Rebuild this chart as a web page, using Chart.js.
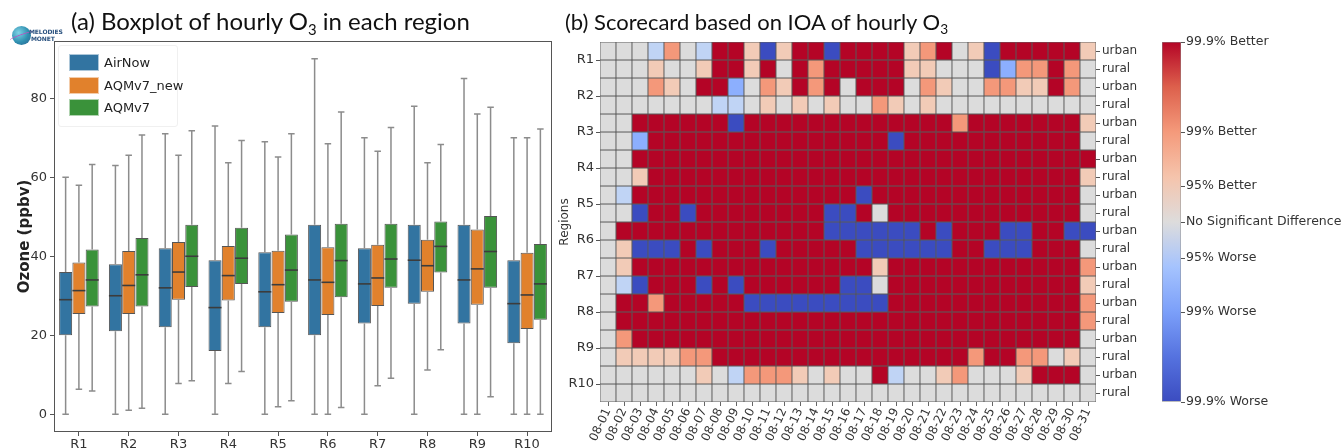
<!DOCTYPE html>
<html>
<head>
<meta charset="utf-8">
<script src="https://cdn.jsdelivr.net/npm/chart.js@4.4.1/dist/chart.umd.min.js"></script>
<style>
  html, body { margin: 0; padding: 0; background: #fff; }
  #wrap { position: relative; width: 1341px; height: 448px; overflow: hidden; background: #fff; font-family: "DejaVu Sans", sans-serif; }
  canvas { position: absolute; top: 0; }
  #boxCanvas { left: 0; }
  #scoreCanvas { left: 550px; }
  #barCanvas { left: 1150px; }
  .title { position: absolute; font-family: Lato, "Open Sans", sans-serif; line-height: 30px; color: #111; white-space: nowrap; }
  .title sub { font-size: 0.62em; line-height: 0; vertical-align: -0.32em; }
  #titleA { left: 71px; top: 6px; font-size: 24px; }
  #titleB { left: 565px; top: 7px; font-size: 22px; }
  #legend { position: absolute; left: 58px; top: 45px; width: 118px; height: 80px; border: 1px solid #f0f0f0; border-radius: 3px; background: rgba(255,255,255,0.85); }
  .item { position: absolute; left: 10px; height: 17px; font-size: 13px; line-height: 17px; color: #222; white-space: nowrap; }
  .patch { display: inline-block; width: 30px; height: 17px; vertical-align: top; margin-right: 5px; border: 1px solid rgba(255,255,255,0.6); box-sizing: border-box; }
  #logo { position: absolute; left: 12px; top: 26px; width: 60px; height: 20px; }
  #logo .globe { position: absolute; left: 0; top: 0; width: 19px; height: 19px; border-radius: 50%; background: radial-gradient(circle at 35% 35%, #7fd3e6, #2f8fb0 55%, #2b5d8c); }
  #logo .globe::after { content: ""; position: absolute; left: -3px; top: 8px; width: 25px; height: 3px; border-radius: 50%; border-top: 1px solid #c04cc0; transform: rotate(-20deg); }
  #logo .txt { position: absolute; left: 17px; top: 3px; font-family: "DejaVu Sans", sans-serif; font-weight: bold; font-size: 6px; line-height: 6.5px; color: #28507e; letter-spacing: -0.1px; }
</style>
</head>
<body>
<div id="wrap">
  <canvas id="boxCanvas" width="560" height="448"></canvas>
  <canvas id="scoreCanvas" width="610" height="448"></canvas>
  <canvas id="barCanvas" width="191" height="448"></canvas>
  <div class="title" id="titleA">(a) Boxplot of hourly O<sub>3</sub> in each region</div>
  <div class="title" id="titleB">(b) Scorecard based on IOA of hourly O<sub>3</sub></div>
  <div id="legend"></div>
  <div id="logo"><div class="globe"></div><div class="txt">MELODIES<br>&nbsp;MONET</div></div>
</div>
<script>
// ---------- panel (a): hourly ozone distributions ----------
const regions = ['R1', 'R2', 'R3', 'R4', 'R5', 'R6', 'R7', 'R8', 'R9', 'R10'];
const seriesNames = ['AirNow', 'AQMv7_new', 'AQMv7'];
const seriesColors = ['#3274a1', '#e1812c', '#3a923a'];
const ozoneTicks = [0, 20, 40, 60, 80];

// [lower whisker, Q1, median, Q3, upper whisker] in ppbv, one entry per region
const airNow = [
  [0, 20, 29, 36, 60], [0, 21, 30, 38, 63], [0, 22, 32, 42, 71], [0, 16, 27, 39, 73], [0, 22, 31, 41, 69],
  [0, 20, 34, 48, 90], [0, 23, 33, 42, 70], [0, 28, 39, 48, 78], [0, 23, 34, 48, 85], [0, 18, 28, 39, 70]
];
const aqmv7New = [
  [6.3, 25.4, 31.3, 38.4, 58], [1, 25.4, 32.6, 41.3, 65.6], [7.8, 29, 36, 43.6, 65.6], [7.8, 28.8, 35.1, 42.6, 63.7], [1.9, 25.6, 32.8, 41.4, 65.1],
  [0, 25.1, 33.4, 42.3, 68.5], [7.2, 27.4, 34.5, 42.9, 66.6], [11.2, 31, 37.6, 44.2, 63.7], [0, 27.7, 36.8, 46.8, 76], [0, 21.6, 30.2, 40.9, 70]
];
const aqmv7 = [
  [5.9, 27.3, 34, 41.7, 63.2], [1.5, 27.3, 35.3, 44.6, 70.7], [8.5, 32.2, 40, 48, 71.8], [10.8, 33, 39.5, 47.2, 69.3], [3.4, 28.5, 36.5, 45.5, 71],
  [1.7, 29.6, 38.9, 48.2, 76.5], [9.1, 32, 39.3, 48.2, 72.6], [16.3, 35.9, 42.5, 48.8, 68.3], [4.4, 32, 41.2, 50.2, 77.7], [0, 23.9, 33, 43.1, 72.2]
];
const seriesStats = [airNow, aqmv7New, aqmv7];

// ---------- panel (b): IOA scorecard ----------
const dayLabels = ['08-01','08-02','08-03','08-04','08-05','08-06','08-07','08-08','08-09','08-10',
  '08-11','08-12','08-13','08-14','08-15','08-16','08-17','08-18','08-19','08-20',
  '08-21','08-22','08-23','08-24','08-25','08-26','08-27','08-28','08-29','08-30','08-31'];
const siteLabels = ['urban', 'rural'];
const scaleLabels = ['99.9% Worse', '99% Worse', '95% Worse', 'No Significant Difference', '95% Better', '99% Better', '99.9% Better'];
const scaleTickValues = [0, 0.25, 0.4, 0.5, 0.6, 0.75, 1];

// score codes: 3 = 99.9% better, 2 = 99% better, 1 = 95% better, 0 = no significant difference,
// -1 = 95% worse, -2 = 99% worse, -3 = 99.9% worse
const r1Urban  = [0,0,0,-1,2,0,-1,3,3,1,-3,1,3,3,-3,3,3,3,3,1,2,3,0,1,-3,3,3,3,3,3,1];
const r1Rural  = [0,0,0,1,0,0,1,3,3,1,3,0,3,2,3,3,3,3,3,1,1,0,0,0,-3,-2,2,2,3,2,0];
const r2Urban  = [0,0,0,2,1,0,3,3,-2,0,2,1,3,2,3,0,3,3,3,0,2,1,0,0,2,2,1,1,3,2,0];
const r2Rural  = [0,0,0,0,0,0,0,-1,-1,0,1,0,1,0,1,0,0,2,1,0,1,0,0,0,0,0,0,0,0,0,0];
const r3Urban  = [0,0,3,3,3,3,3,3,-3,3,3,3,3,3,3,3,3,3,3,3,3,3,2,3,3,3,3,3,3,3,1];
const r3Rural  = [0,0,-2,3,3,3,3,3,3,3,3,3,3,3,3,3,3,3,-3,3,3,3,3,3,3,3,3,3,3,3,0];
const r4Urban  = [0,0,3,3,3,3,3,3,3,3,3,3,3,3,3,3,3,3,3,3,3,3,3,3,3,3,3,3,3,3,3];
const r4Rural  = [0,0,1,3,3,3,3,3,3,3,3,3,3,3,3,3,3,3,3,3,3,3,3,3,3,3,3,3,3,3,1];
const r5Urban  = [0,-1,3,3,3,3,3,3,3,3,3,3,3,3,3,3,-3,3,3,3,3,3,3,3,3,3,3,3,3,3,0];
const r5Rural  = [0,0,-3,3,3,-3,3,3,3,3,3,3,3,3,-3,-3,3,0,3,3,3,3,3,3,3,3,3,3,3,3,0];
const r6Urban  = [0,3,3,3,3,3,3,3,3,3,3,3,3,3,-3,-3,-3,-3,-3,-3,3,-3,3,3,3,-3,-3,3,3,-3,-3];
const r6Rural  = [0,1,-3,-3,-3,3,-3,3,3,3,-3,3,3,3,3,3,-3,-3,-3,-3,-3,-3,3,3,-3,-3,-3,3,3,3,0];
const r7Urban  = [0,1,3,3,3,3,3,3,3,3,3,3,3,3,3,3,3,1,3,3,3,3,3,3,3,3,3,3,3,3,2];
const r7Rural  = [0,-1,-3,3,3,3,-3,3,-3,3,3,3,3,3,3,-3,-3,0,3,3,3,3,3,3,3,3,3,3,3,3,1];
const r8Urban  = [0,3,3,2,3,3,3,3,3,-3,-3,-3,-3,-3,-3,-3,-3,-3,3,3,3,3,3,3,3,3,3,3,3,3,2];
const r8Rural  = [0,3,3,3,3,3,3,3,3,3,3,3,3,3,3,3,3,3,3,3,3,3,3,3,3,3,3,3,3,3,2];
const r9Urban  = [0,2,3,3,3,3,3,3,3,3,3,3,3,3,3,3,3,3,3,3,3,3,3,3,3,3,3,3,3,3,0];
const r9Rural  = [0,1,1,1,1,2,2,3,3,3,3,3,3,3,3,3,3,3,3,3,3,3,3,2,3,3,2,2,0,1,0];
const r10Urban = [0,0,0,0,0,0,1,0,-1,2,2,2,1,0,1,0,0,3,-1,0,0,1,2,0,0,0,1,3,3,3,0];
const r10Rural = [0,0,0,0,0,0,0,0,0,0,0,0,0,0,0,0,0,0,0,0,0,0,0,0,0,0,0,0,0,0,0];
const scoreRows = [r1Urban, r1Rural, r2Urban, r2Rural, r3Urban, r3Rural, r4Urban, r4Rural, r5Urban, r5Rural,
  r6Urban, r6Rural, r7Urban, r7Rural, r8Urban, r8Rural, r9Urban, r9Rural, r10Urban, r10Rural];

// coolwarm-style colours for each score code
const scoreColors = { '3': '#b40426', '2': '#f4987a', '1': '#f2cbb7', '0': '#dcdcdc', '-1': '#c0d4f5', '-2': '#8caffe', '-3': '#3b4cc0' };
const coolwarmStops = [
  [0, '#3b4cc0'], [0.125, '#5572df'], [0.25, '#7b9ff9'], [0.375, '#a5c3fe'], [0.5, '#dddcdc'],
  [0.625, '#f5c4ac'], [0.75, '#f49a7b'], [0.875, '#dd604c'], [1, '#b40426']
];

Chart.defaults.font.family = '"DejaVu Sans", sans-serif';
Chart.defaults.color = '#222';
Chart.defaults.animation = false;

// legend for panel (a)
const legendEl = document.getElementById('legend');
seriesNames.forEach((name, i) => {
  const item = document.createElement('div');
  item.className = 'item';
  item.style.top = (8 + i * 22.5) + 'px';
  item.innerHTML = '<span class="patch" style="background:' + seriesColors[i] + '"></span>' + name;
  legendEl.appendChild(item);
});

// whiskers, caps and medians for each box
const boxWhiskers = {
  id: 'boxWhiskers',
  afterDatasetsDraw(chart) {
    const ctx = chart.ctx;
    const yScale = chart.scales.y;
    ctx.save();
    chart.data.datasets.forEach((ds, i) => {
      const meta = chart.getDatasetMeta(i);
      meta.data.forEach((bar, j) => {
        const [lo, q1, med, q3, hi] = ds.stats[j];
        const x = bar.x;
        const half = bar.width / 2;
        const cap = half / 2;
        ctx.strokeStyle = '#8c8c8c';
        ctx.lineWidth = 1.5;
        ctx.beginPath();
        ctx.moveTo(x, yScale.getPixelForValue(q3));
        ctx.lineTo(x, yScale.getPixelForValue(hi));
        ctx.moveTo(x, yScale.getPixelForValue(q1));
        ctx.lineTo(x, yScale.getPixelForValue(lo));
        ctx.moveTo(x - cap, yScale.getPixelForValue(hi));
        ctx.lineTo(x + cap, yScale.getPixelForValue(hi));
        ctx.moveTo(x - cap, yScale.getPixelForValue(lo));
        ctx.lineTo(x + cap, yScale.getPixelForValue(lo));
        ctx.stroke();
        ctx.strokeStyle = '#3c3c3c';
        ctx.lineWidth = 1.6;
        ctx.beginPath();
        ctx.moveTo(x - half, yScale.getPixelForValue(med));
        ctx.lineTo(x + half, yScale.getPixelForValue(med));
        ctx.stroke();
      });
    });
    ctx.restore();
  },
  afterDraw(chart) {
    const { left, top, width, height } = chart.chartArea;
    const ctx = chart.ctx;
    ctx.save();
    ctx.strokeStyle = '#555';
    ctx.lineWidth = 1;
    ctx.strokeRect(left + 0.5, top + 0.5, width - 1, height - 1);
    ctx.restore();
  }
};

new Chart(document.getElementById('boxCanvas'), {
  type: 'bar',
  data: {
    labels: regions,
    datasets: seriesStats.map((stats, i) => ({
      label: seriesNames[i],
      stats: stats,
      data: stats.map(s => [s[1], s[3]]),
      backgroundColor: seriesColors[i],
      borderColor: '#555555',
      borderWidth: 1,
      borderSkipped: false,
      barPercentage: 0.98,
      categoryPercentage: 0.8
    }))
  },
  options: {
    responsive: false,
    layout: { padding: { left: 0, top: 41, right: 8, bottom: 0 } },
    plugins: { legend: { display: false }, tooltip: { enabled: false } },
    scales: {
      x: {
        grid: { display: true, drawOnChartArea: false, offset: false, tickLength: 4, color: '#555' },
        border: { display: false },
        ticks: { font: { size: 13 }, padding: 1, color: '#333' },
        afterFit: s => { s.height = 16; }
      },
      y: {
        min: -4.5,
        max: 94.5,
        afterBuildTicks: axis => { axis.ticks = ozoneTicks.map(v => ({ value: v })); },
        grid: { display: true, drawOnChartArea: false, tickLength: 4, color: '#555' },
        border: { display: false },
        ticks: { font: { size: 13 }, padding: 3, color: '#333' },
        title: { display: true, text: 'Ozone (ppbv)', font: { size: 15, weight: 'bold' }, padding: { top: 16, bottom: 0 }, color: '#222' },
        afterFit: s => { s.width = 54; }
      }
    }
  },
  plugins: [boxWhiskers]
});

// scorecard: each cell is a floating bar spanning one row of the reversed y scale
new Chart(document.getElementById('scoreCanvas'), {
  type: 'bar',
  data: {
    labels: dayLabels,
    datasets: scoreRows.map((row, r) => ({
      label: regions[Math.floor(r / 2)] + ' ' + siteLabels[r % 2],
      data: row.map(() => [r, r + 1]),
      backgroundColor: row.map(v => scoreColors[String(v)]),
      borderColor: 'rgba(30,30,30,0.7)',
      borderWidth: 0.8,
      borderSkipped: false,
      grouped: false,
      barPercentage: 1,
      categoryPercentage: 1
    }))
  },
  options: {
    responsive: false,
    layout: { padding: { left: 0, top: 42, right: 0, bottom: 0 } },
    plugins: { legend: { display: false }, tooltip: { enabled: false } },
    scales: {
      x: {
        grid: { display: true, drawOnChartArea: false, offset: false, tickLength: 4, color: '#666' },
        border: { display: false },
        ticks: { autoSkip: false, minRotation: 65, maxRotation: 65, font: { size: 12 }, padding: 0, color: '#333' },
        afterFit: s => { s.height = 46; }
      },
      y: {
        position: 'left',
        min: 0,
        max: 20,
        reverse: true,
        afterBuildTicks: axis => { axis.ticks = regions.map((_, k) => ({ value: 2 * k + 1 })); },
        grid: { display: true, drawOnChartArea: false, tickLength: 4, color: '#555' },
        border: { display: false },
        ticks: { font: { size: 13 }, padding: 2, color: '#333', callback: (v, idx) => regions[idx] },
        title: { display: true, text: 'Regions', font: { size: 12 }, padding: { top: 8, bottom: 0 }, color: '#333' },
        afterFit: s => { s.width = 50; }
      },
      ySite: {
        position: 'right',
        min: 0,
        max: 20,
        reverse: true,
        afterBuildTicks: axis => { axis.ticks = scoreRows.map((_, k) => ({ value: k + 0.5 })); },
        grid: { display: true, drawOnChartArea: false, tickLength: 4, color: '#555' },
        border: { display: false },
        ticks: { font: { size: 12 }, padding: 2, color: '#333', callback: (v, idx) => siteLabels[idx % 2] },
        afterFit: s => { s.width = 64; }
      }
    }
  }
});

// colour bar
new Chart(document.getElementById('barCanvas'), {
  type: 'bar',
  data: {
    labels: [''],
    datasets: [{
      data: [[0, 1]],
      backgroundColor: ctx => {
        const area = ctx.chart.chartArea;
        if (!area) return '#dddddd';
        const g = ctx.chart.ctx.createLinearGradient(0, area.bottom, 0, area.top);
        coolwarmStops.forEach(([p, c]) => g.addColorStop(p, c));
        return g;
      },
      borderColor: '#8a8a8a',
      borderWidth: 0.8,
      borderSkipped: false,
      barPercentage: 1,
      categoryPercentage: 1
    }]
  },
  options: {
    responsive: false,
    layout: { padding: { left: 12, top: 42, right: 0, bottom: 46 } },
    plugins: { legend: { display: false }, tooltip: { enabled: false } },
    scales: {
      x: { display: false },
      y: {
        position: 'right',
        min: 0,
        max: 1,
        afterBuildTicks: axis => { axis.ticks = scaleTickValues.map(v => ({ value: v })); },
        grid: { display: true, drawOnChartArea: false, tickLength: 4, color: '#555' },
        border: { display: false },
        ticks: { autoSkip: false, font: { size: 12.5 }, padding: 1, color: '#333', callback: (v, idx) => scaleLabels[idx] },
        afterFit: s => { s.width = 160; }
      }
    }
  }
});
</script>
</body>
</html>
